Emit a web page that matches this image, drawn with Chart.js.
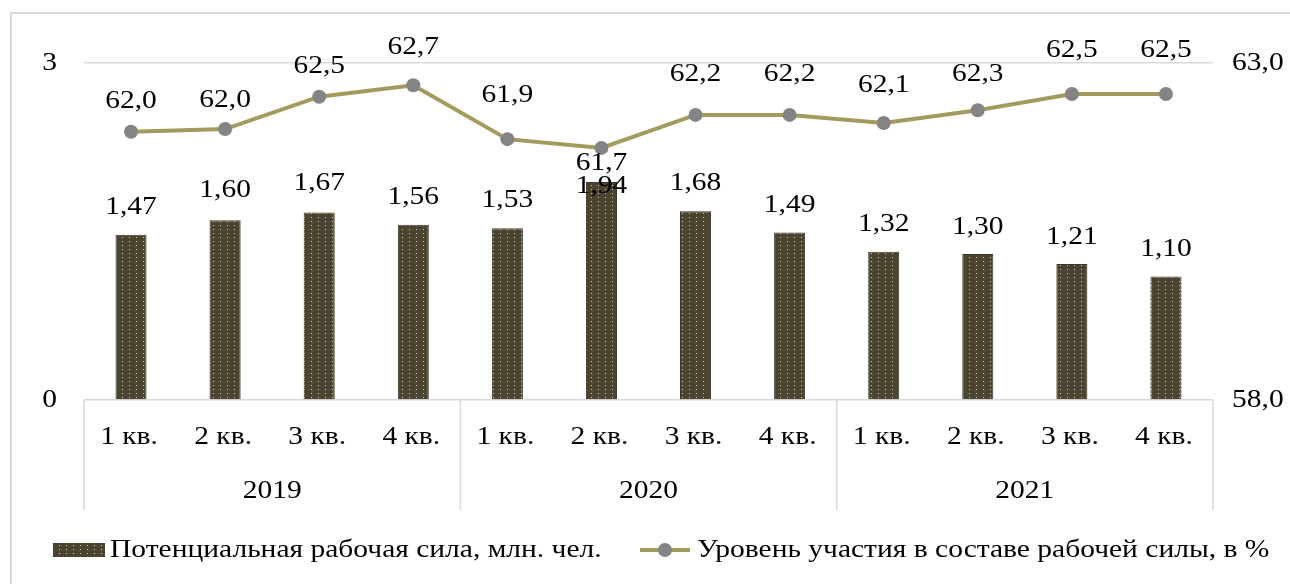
<!DOCTYPE html>
<html>
<head>
<meta charset="utf-8">
<script src="https://cdn.jsdelivr.net/npm/chart.js@4.4.0/dist/chart.umd.min.js"></script>
<style>
  html, body { margin: 0; padding: 0; background: #fff; }
  #wrap { position: relative; width: 1290px; height: 584px; overflow: hidden; }
  #frame { position: absolute; left: 10px; top: 12px; width: 1320px; height: 620px; border: 2px solid #d9d9d9; box-sizing: border-box; }
  #c { position: absolute; left: 0; top: 0; }
</style>
</head>
<body>
<div id="wrap">
  <div id="frame"></div>
  <canvas id="c" width="1290" height="584"></canvas>
</div>
<script>
// data
const quarters = ['1 кв.', '2 кв.', '3 кв.', '4 кв.', '1 кв.', '2 кв.', '3 кв.', '4 кв.', '1 кв.', '2 кв.', '3 кв.', '4 кв.'];
const years = ['2019', '2020', '2021'];
const labourReserve = [1.47, 1.60, 1.67, 1.56, 1.53, 1.94, 1.68, 1.49, 1.32, 1.30, 1.21, 1.10];
const participation = [61.98, 62.02, 62.50, 62.67, 61.87, 61.74, 62.23, 62.23, 62.11, 62.30, 62.54, 62.54];
const leftTicks = [0, 3];
const rightTicks = [58, 63];

const barName = 'Потенциальная рабочая сила, млн. чел.';
const lineName = 'Уровень участия в составе рабочей силы, в %';

// label nudges (excel labels were moved by hand in a few places)
const lineLabelDy = [-31, -29, -31, -38, -44, 15, -41, -41, -38, -36, -44, -44];
const barLabelDy = [-28, -30, -29, -28, -28, 4, -28, -27, -28, -27, -27, -27];

const FONT = "'Liberation Serif', 'Times New Roman', serif";
const FSIZE = 26;
const STRETCH = 1.135;
const BAR_COLOR = '#4a4430';
const LINE_COLOR = '#a39b5e';
const DOT_COLOR = '#848484';
const GRID = '#d9d9d9';

const comma = (v, d) => v.toFixed(d).replace('.', ',');

const canvas = document.getElementById('c');
const ctx = canvas.getContext('2d');

// dotted fill like the excel pattern
function dotPattern() {
  const t = document.createElement('canvas');
  t.width = 7; t.height = 4;
  const g = t.getContext('2d');
  g.fillStyle = BAR_COLOR;
  g.fillRect(0, 0, 7, 4);
  g.fillStyle = '#cfcab4';
  g.fillRect(3, 1, 1, 1);
  return ctx.createPattern(t, 'repeat');
}
const pattern = dotPattern();

// times text in the picture is a bit wider than liberation serif
function text(c, str, x, y, align) {
  c.save();
  c.translate(x, y);
  c.scale(STRETCH, 1);
  c.textAlign = align || 'center';
  c.fillText(str, 0, 0);
  c.restore();
}

const extras = {
  id: 'extras',
  afterDatasetsDraw(chart) {
    const c = chart.ctx;
    const area = chart.chartArea;
    const xs = chart.scales.x;
    const yl = chart.scales.y;
    const yr = chart.scales.y1;
    c.save();
    c.font = FSIZE + 'px ' + FONT;
    c.fillStyle = '#000';
    c.textBaseline = 'middle';

    // axis labels
    leftTicks.forEach(v => text(c, String(v), 57, yl.getPixelForValue(v), 'right'));
    rightTicks.forEach(v => text(c, comma(v, 1), 1232, yr.getPixelForValue(v), 'left'));
    quarters.forEach((q, i) => text(c, q, xs.getPixelForValue(i) - 2, area.bottom + 37));

    // bar labels
    chart.getDatasetMeta(1).data.forEach((el, i) => {
      text(c, comma(labourReserve[i], 2), el.x, el.y + barLabelDy[i]);
    });
    // line labels
    chart.getDatasetMeta(0).data.forEach((el, i) => {
      text(c, comma(participation[i], 1), el.x, el.y + lineLabelDy[i]);
    });

    // category group separators
    c.strokeStyle = GRID;
    c.lineWidth = 1.5;
    const bounds = [area.left];
    for (let g = 1; g < years.length; g++) {
      bounds.push((xs.getPixelForValue(g * 4 - 1) + xs.getPixelForValue(g * 4)) / 2);
    }
    bounds.push(area.right);
    bounds.forEach(x => {
      c.beginPath();
      c.moveTo(x, area.bottom);
      c.lineTo(x, area.bottom + 110);
      c.stroke();
    });
    years.forEach((y, g) => {
      text(c, y, (bounds[g] + bounds[g + 1]) / 2, area.bottom + 91);
    });

    // legend
    const ly = 550;
    c.fillStyle = pattern;
    c.fillRect(53, ly - 7, 52, 14);
    c.fillStyle = '#000';
    text(c, barName, 110, ly, 'left');

    c.strokeStyle = LINE_COLOR;
    c.lineWidth = 4;
    c.beginPath();
    c.moveTo(640, ly);
    c.lineTo(690, ly);
    c.stroke();
    c.fillStyle = DOT_COLOR;
    c.beginPath();
    c.arc(665, ly, 7, 0, Math.PI * 2);
    c.fill();
    c.fillStyle = '#000';
    text(c, lineName, 697, ly, 'left');
    c.restore();
  }
};

new Chart(ctx, {
  type: 'bar',
  data: {
    labels: quarters,
    datasets: [
      {
        type: 'line',
        label: lineName,
        data: participation,
        yAxisID: 'y1',
        borderColor: LINE_COLOR,
        borderWidth: 4,
        pointRadius: 7,
        pointBackgroundColor: DOT_COLOR,
        pointBorderWidth: 0,
        tension: 0,
        order: 0
      },
      {
        type: 'bar',
        label: barName,
        data: labourReserve,
        yAxisID: 'y',
        backgroundColor: pattern,
        borderColor: '#3b3624',
        borderWidth: 1,
        categoryPercentage: 1,
        barPercentage: 0.33,
        order: 1
      }
    ]
  },
  options: {
    responsive: false,
    animation: false,
    devicePixelRatio: 1,
    layout: { padding: { top: 63, left: 0, right: 0, bottom: 0 } },
    plugins: {
      legend: { display: false },
      tooltip: { enabled: false }
    },
    scales: {
      x: {
        grid: { display: false },
        border: { display: false },
        ticks: { display: false },
        afterFit: s => { s.height = 184; }
      },
      y: {
        position: 'left',
        min: leftTicks[0],
        max: leftTicks[1],
        afterBuildTicks: s => { s.ticks = leftTicks.map(v => ({ value: v })); },
        grid: { color: GRID, lineWidth: 1.5, drawTicks: false },
        border: { display: false },
        ticks: { display: false },
        afterFit: s => { s.width = 84; }
      },
      y1: {
        position: 'right',
        min: rightTicks[0],
        max: rightTicks[1],
        afterBuildTicks: s => { s.ticks = rightTicks.map(v => ({ value: v })); },
        grid: { display: false, drawTicks: false },
        border: { display: false },
        ticks: { display: false },
        afterFit: s => { s.width = 77; }
      }
    }
  },
  plugins: [extras]
});
</script>
</body>
</html>
